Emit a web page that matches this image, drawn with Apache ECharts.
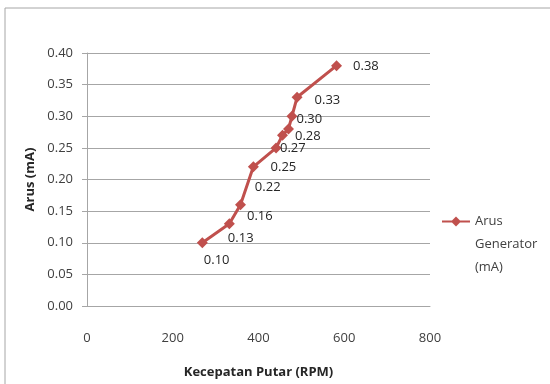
<!DOCTYPE html>
<html>
<head>
<meta charset="utf-8">
<script src="https://cdn.jsdelivr.net/npm/echarts@6/dist/echarts.min.js"></script>
<style>
    html, body { margin: 0; padding: 0; background: #fff; }
    #main { width: 550px; height: 384px; }
</style>
</head>
<body>
<div id="main"></div>
<script>
/* data */
var speedRpm = [269, 332, 358, 388, 441, 456, 470, 478, 490, 582];
var currentMa = [0.10, 0.13, 0.16, 0.22, 0.25, 0.27, 0.28, 0.30, 0.33, 0.38];
var seriesName = 'Arus\nGenerator\n(mA)';

/* where each value label sits relative to its marker */
var labelOffsets = [[-4, 18], [-7, 15], [1, 11], [-4, 20], [-11, 19], [-8, 13], [1, 7], [-1, 3], [12, 3], [11, 1]];

var fontFam = '"Open Sans", "Liberation Sans", sans-serif';
var lineColor = '#C0504D';

var points = speedRpm.map(function (x, i) {
    return {
        value: [x, currentMa[i]],
        label: { offset: labelOffsets[i] }
    };
});

var myChart = echarts.init(document.getElementById('main'));
myChart.setOption({
    animation: false,
    backgroundColor: '#fff',
    textStyle: { fontFamily: fontFam },
    graphic: [{
        type: 'rect',
        shape: { x: 5, y: 8, width: 600, height: 420 },
        style: { fill: 'none', stroke: '#a6a6a6', lineWidth: 1 }
    }],
    grid: { left: 87, right: 120, top: 53, bottom: 78 },
    legend: {
        orient: 'vertical',
        left: 437,
        top: 159,
        itemWidth: 28,
        itemHeight: 10,
        itemGap: 4,
        textStyle: { fontSize: 13, color: '#404040', lineHeight: 23, fontFamily: fontFam },
        // two blank lines on top so the marker lines up with "Arus"
        formatter: function (name) { return ' \n \n' + name; },
        data: [{ name: seriesName, icon: 'path://M0,4 L10,4 L14,0 L18,4 L28,4 L28,6 L18,6 L14,10 L10,6 L0,6 Z' }]
    },
    xAxis: {
        type: 'value',
        min: 0, max: 800, interval: 200,
        name: 'Kecepatan Putar (RPM)',
        nameLocation: 'middle',
        nameGap: 60,
        nameTextStyle: { fontSize: 13, fontWeight: 'bold', color: '#262626', fontFamily: fontFam },
        axisLine: { show: true, lineStyle: { color: '#a6a6a6' } },
        axisTick: { show: false },
        splitLine: { show: false },
        axisLabel: { fontSize: 13, color: '#404040', margin: 26, fontFamily: fontFam }
    },
    yAxis: {
        type: 'value',
        min: 0, max: 0.4, interval: 0.05,
        name: 'Arus (mA)',
        nameLocation: 'middle',
        nameGap: 50,
        nameTextStyle: { fontSize: 13, fontWeight: 'bold', color: '#262626', fontFamily: fontFam },
        axisLine: { show: true, lineStyle: { color: '#a6a6a6' } },
        axisTick: { show: true, inside: false, length: 5, lineStyle: { color: '#a6a6a6' } },
        splitLine: { show: true, lineStyle: { color: '#a6a6a6' } },
        axisLabel: {
            fontSize: 13, color: '#404040', margin: 14, fontFamily: fontFam,
            formatter: function (v) { return v.toFixed(2); }
        }
    },
    series: [{
        name: seriesName,
        type: 'line',
        data: points,
        symbol: 'diamond',
        symbolSize: 11,
        itemStyle: { color: lineColor },
        lineStyle: { color: lineColor, width: 3 },
        label: {
            show: true,
            position: 'right',
            distance: 0,
            fontSize: 13,
            color: '#262626',
            fontFamily: fontFam,
            formatter: function (p) { return p.value[1].toFixed(2); }
        }
    }]
});
</script>
</body>
</html>
